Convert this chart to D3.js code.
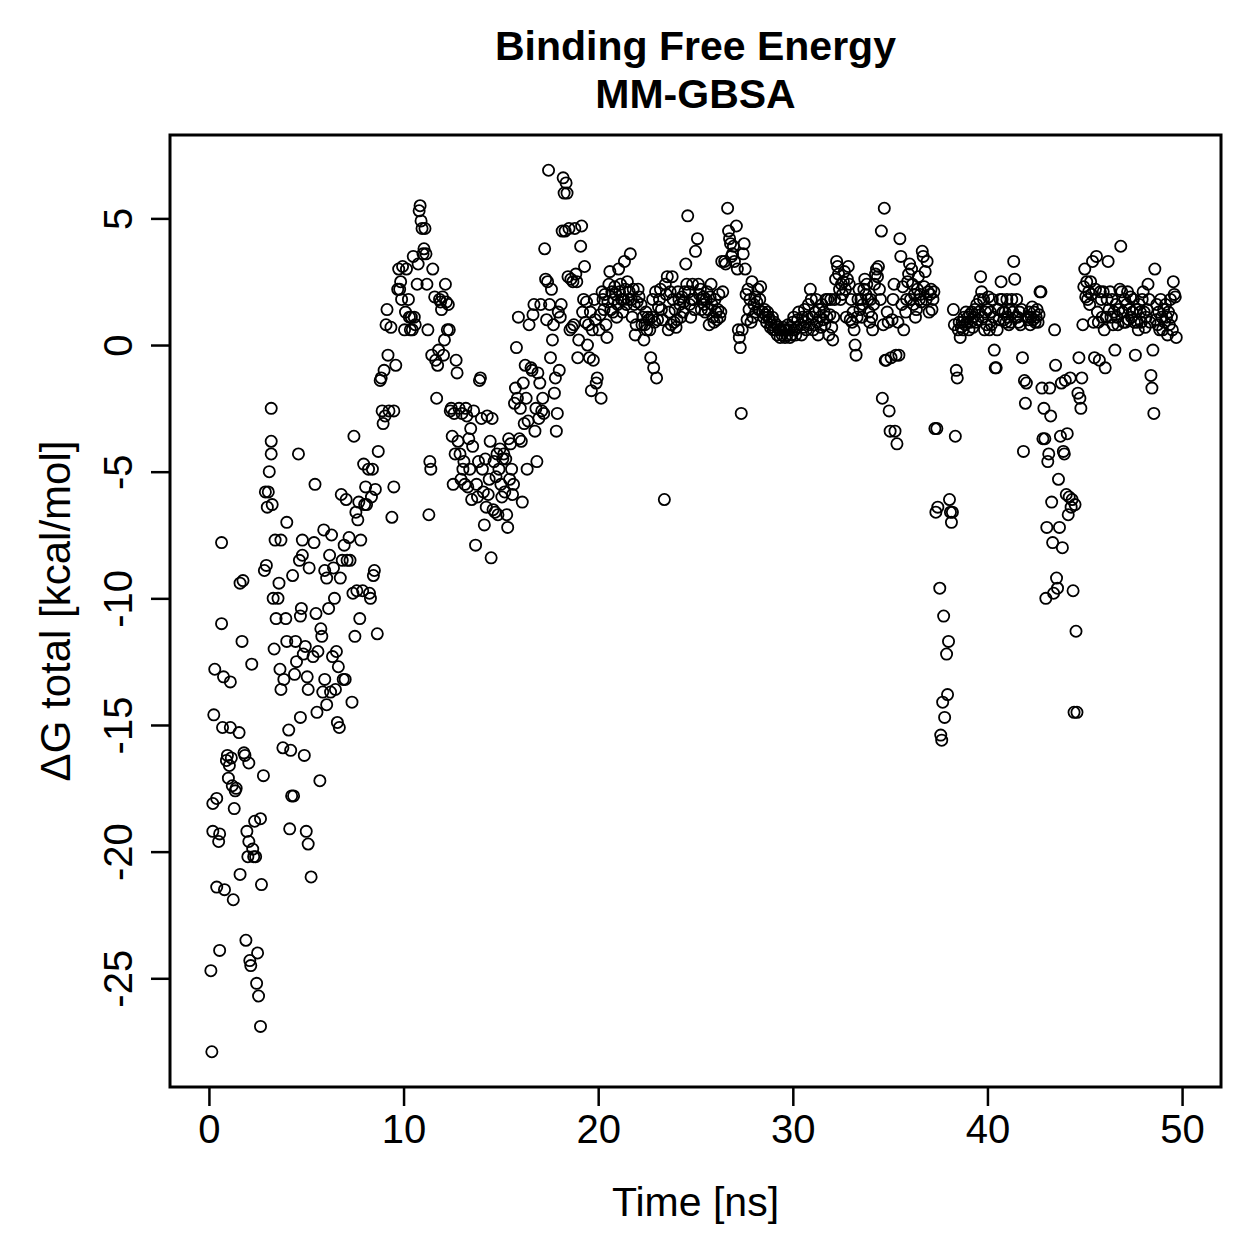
<!DOCTYPE html>
<html>
<head>
<meta charset="utf-8">
<script src="https://cdn.jsdelivr.net/npm/d3@7"></script>
<style>
  body { margin: 0; background: #fff; }
  text { font-family: "Liberation Sans", Arial, Helvetica, sans-serif; fill: #000; }
</style>
</head>
<body>
<svg id="chart" width="1259" height="1259"></svg>
<script>
// [time (ns), dG total (kcal/mol)], split by time window
var seg0to5 = [
  [0.1,-24.7],[0.15,-27.9],[0.25,-14.6],[0.3,-12.8],[0.2,-18.1],[0.2,-19.2],[0.4,-17.9],[0.4,-21.4],
  [0.5,-19.6],[0.55,-19.3],[0.55,-23.9],[0.65,-7.8],[0.65,-11.0],[0.7,-15.1],[0.75,-13.1],[0.8,-21.5],
  [0.9,-16.4],[0.95,-16.2],[1.0,-17.1],[1.05,-16.6],[1.1,-13.3],[1.1,-15.1],[1.15,-16.3],[1.2,-17.4],
  [1.25,-21.9],[1.3,-18.3],[1.35,-17.6],[1.4,-17.5],[1.55,-15.3],[1.6,-20.9],[1.6,-9.4],[1.7,-11.7],
  [1.75,-9.3],[1.8,-16.1],[1.85,-16.2],[1.9,-23.5],[1.95,-19.2],[2.0,-20.2],[2.05,-16.5],[2.05,-19.6],
  [2.1,-24.3],[2.15,-24.5],[2.2,-12.6],[2.25,-19.9],[2.3,-20.2],[2.35,-18.8],[2.4,-20.2],[2.45,-25.2],
  [2.5,-24.0],[2.55,-25.7],[2.65,-18.7],[2.65,-26.9],[2.7,-21.3],[2.8,-17.0],[2.85,-8.9],[2.9,-5.8],
  [2.95,-8.7],[3.0,-6.4],[3.05,-5.8],[3.2,-2.5],[3.2,-3.8],[3.2,-4.3],[3.1,-5.0],[3.25,-6.3],
  [3.3,-10.0],[3.35,-12.0],[3.4,-7.7],[3.45,-10.8],[3.55,-10.0],[3.6,-9.4],[3.65,-12.8],[3.7,-7.7],
  [3.7,-13.6],[3.8,-15.9],[3.85,-13.2],[3.95,-10.8],[4.0,-11.7],[4.0,-7.0],[4.1,-15.2],[4.15,-19.1],
  [4.2,-16.0],[4.25,-17.8],[4.3,-9.1],[4.35,-17.8],[4.4,-13.0],[4.45,-11.7],[4.5,-12.5],[4.6,-4.3],
  [4.65,-8.5],[4.7,-10.7],[4.7,-14.7],[4.75,-10.4],[4.8,-8.3],[4.8,-7.7],[4.85,-12.2],[4.9,-16.2],
  [4.95,-11.9]
];
var seg5to10 = [
  [5.0,-19.2],[5.05,-13.1],[5.1,-19.7],[5.1,-13.6],[5.15,-8.8],[5.25,-21.0],[5.35,-12.3],[5.4,-7.8],
  [5.45,-5.5],[5.5,-10.6],[5.55,-14.5],[5.6,-12.1],[5.7,-17.2],[5.75,-11.2],[5.8,-11.5],[5.85,-13.7],
  [5.9,-7.3],[5.95,-13.2],[5.95,-8.9],[6.05,-14.2],[6.05,-9.2],[6.15,-10.4],[6.2,-8.3],[6.25,-13.7],
  [6.3,-7.5],[6.35,-12.3],[6.4,-8.8],[6.45,-10.0],[6.5,-13.6],[6.55,-12.1],[6.6,-14.9],[6.65,-12.7],
  [6.7,-15.1],[6.75,-9.2],[6.8,-5.9],[6.85,-8.5],[6.9,-13.2],[6.95,-7.9],[7.0,-13.2],[7.05,-6.1],
  [7.1,-8.5],[7.2,-7.6],[7.25,-8.5],[7.35,-14.1],[7.4,-9.8],[7.45,-3.6],[7.5,-11.5],[7.55,-6.6],
  [7.6,-9.7],[7.65,-6.9],[7.7,-6.2],[7.75,-10.8],[7.8,-7.7],[7.9,-9.7],[7.95,-4.7],[8.0,-6.3],
  [8.05,-5.6],[8.1,-6.3],[8.2,-4.9],[8.25,-9.8],[8.3,-10.0],[8.35,-6.0],[8.4,-4.9],[8.45,-9.1],
  [8.5,-8.9],[8.55,-5.7],[8.65,-11.4],[8.7,-4.2],[8.8,-1.4],[8.85,-1.3],[8.9,-2.6],[8.95,-3.1],
  [9.0,-1.0],[9.05,-2.8],[9.1,0.8],[9.15,1.4],[9.2,-0.4],[9.25,-2.6],[9.35,0.7],[9.4,-6.8],
  [9.5,-5.6],[9.5,-2.6],[9.6,-0.8],[9.7,2.2],[9.75,3.0],[9.8,2.2],[9.85,2.5],[9.9,1.8],[9.95,3.1]
];
var seg10to20 = [
  [10.05,0.6],[10.1,1.3],[10.15,3.0],[10.25,1.8],[10.3,1.1],[10.35,0.6],[10.4,1.1],[10.45,0.6],
  [10.5,3.5],[10.55,1.1],[10.6,0.8],[10.7,2.4],[10.75,3.2],[10.8,5.3],[10.85,5.5],[10.9,4.9],
  [10.95,4.6],[11.0,3.6],[11.05,3.8],[11.1,4.6],[11.15,3.6],[11.2,2.4],[11.25,0.6],[11.3,-6.7],
  [11.35,-4.6],[11.4,-4.9],[11.45,-0.4],[11.5,3.0],[11.6,1.9],[11.65,-0.6],[11.7,-2.1],[11.75,-0.8],
  [11.8,-0.2],[11.85,1.8],[11.9,1.7],[11.95,1.4],[12.0,1.9],[12.05,-0.4],[12.1,0.2],[12.15,2.4],
  [12.2,1.7],[12.25,0.6],[12.3,1.6],[12.35,0.6],[12.4,-2.6],[12.45,-2.5],[12.5,-3.6],[12.55,-5.5],
  [12.6,-2.7],[12.65,-4.3],[12.7,-0.6],[12.75,-1.1],[12.8,-3.8],[12.85,-2.5],[12.9,-4.3],[12.95,-5.3],
  [13.0,-2.7],[13.05,-4.9],[13.1,-4.6],[13.15,-5.5],[13.2,-2.5],[13.25,-2.8],[13.3,-5.6],[13.35,-3.7],
  [13.4,-4.9],[13.45,-3.3],[13.5,-6.1],[13.55,-4.0],[13.6,-2.6],[13.7,-7.9],[13.75,-5.5],[13.8,-6.0],
  [13.85,-4.6],[13.9,-1.4],[13.95,-1.3],[14.0,-2.9],[14.05,-4.9],[14.1,-5.8],[14.15,-7.1],[14.2,-4.5],
  [14.25,-6.4],[14.3,-2.8],[14.35,-5.9],[14.4,-5.3],[14.45,-3.8],[14.5,-8.4],[14.55,-2.9],[14.6,-6.5],
  [14.65,-4.6],[14.7,-6.6],[14.75,-5.2],[14.8,-4.3],[14.85,-6.7],[14.9,-4.9],[14.95,-4.1],[15.0,-5.5],
  [15.05,-6.0],[15.1,-4.5],[15.15,-4.3],[15.2,-5.8],[15.25,-4.5],[15.3,-6.7],[15.35,-7.2],[15.4,-3.7],
  [15.45,-5.3],[15.5,-3.9],[15.55,-4.9],[15.6,-5.9],[15.65,-5.5],[15.7,-2.3],[15.75,-1.7],[15.8,-0.1],
  [15.85,-2.1],[15.9,1.1],[15.95,-3.7],[16.0,-2.5],[16.05,-3.8],[16.1,-6.2],[16.15,-1.5],[16.2,-3.1],
  [16.25,-0.8],[16.3,-2.1],[16.35,-4.9],[16.4,-3.0],[16.45,0.8],[16.55,-0.9],[16.6,-1.0],[16.65,1.2],
  [16.7,1.6],[16.75,-3.4],[16.8,-2.5],[16.85,-4.6],[16.9,-1.1],[16.95,-2.9],[17.0,-1.5],[17.05,1.6],
  [17.1,-2.6],[17.15,-2.1],[17.2,-2.7],[17.25,3.8],[17.3,2.6],[17.35,1.0],[17.4,2.5],[17.45,6.9],
  [17.5,1.6],[17.55,-0.5],[17.6,2.2],[17.65,0.2],[17.7,0.8],[17.75,-1.9],[17.8,-1.3],[17.85,-3.4],
  [17.9,-2.7],[17.95,1.3],[18.0,-1.0],[18.05,1.1],[18.1,1.6],[18.15,4.5],[18.2,6.6],[18.25,6.0],
  [18.3,4.5],[18.35,6.4],[18.4,6.0],[18.45,2.7],[18.5,4.6],[18.55,0.6],[18.6,2.6],[18.65,0.7],
  [18.7,2.5],[18.75,0.8],[18.8,4.6],[18.85,2.8],[18.9,2.5],[18.95,-0.5],[19.0,0.2],[19.1,3.9],
  [19.15,4.7],[19.2,1.3],[19.25,1.8],[19.3,3.1],[19.35,0.9],[19.4,1.7],[19.45,0.0],[19.5,0.8],
  [19.55,-0.5],[19.6,1.3],[19.65,-1.8],[19.7,0.6],[19.75,-0.6],[19.8,1.8],[19.85,1.0],[19.9,-1.5],
  [19.95,-1.3]
];
var seg20to30 = [
  [20.05,0.6],[20.1,1.2],[20.15,-2.1],[20.2,2.1],[20.25,1.8],[20.3,1.4],[20.35,2.0],[20.4,0.8],
  [20.45,0.3],[20.5,1.7],[20.55,2.4],[20.6,2.9],[20.65,1.4],[20.7,2.1],[20.75,1.3],[20.8,1.8],
  [20.85,2.3],[20.9,2.0],[20.95,1.1],[21.0,1.6],[21.05,3.0],[21.1,2.1],[21.15,2.4],[21.2,1.8],
  [21.25,1.3],[21.3,1.8],[21.35,3.3],[21.4,2.2],[21.45,1.6],[21.5,2.5],[21.55,1.8],[21.6,2.1],
  [21.65,3.6],[21.7,1.8],[21.75,1.1],[21.8,2.2],[21.85,1.6],[21.9,0.4],[21.95,0.8],[22.0,1.7],
  [22.05,2.2],[22.1,1.9],[22.2,1.6],[22.25,0.8],[22.3,1.1],[22.35,0.2],[22.4,0.8],[22.45,1.3],
  [22.5,0.6],[22.55,1.1],[22.6,1.0],[22.65,0.6],[22.7,-0.5],[22.75,1.1],[22.8,1.8],[22.85,-0.9],
  [22.9,0.9],[22.95,2.1],[23.0,-1.3],[23.05,1.0],[23.1,1.5],[23.15,1.8],[23.2,2.2],[23.25,1.4],
  [23.3,1.0],[23.4,-6.1],[23.45,2.4],[23.5,2.0],[23.55,2.7],[23.6,0.6],[23.65,1.3],[23.7,2.1],
  [23.75,0.8],[23.8,2.7],[23.85,1.8],[23.9,0.9],[23.95,1.4],[24.0,0.7],[24.05,1.0],[24.1,2.1],
  [24.15,1.8],[24.2,1.6],[24.25,1.1],[24.3,1.9],[24.35,1.3],[24.4,1.7],[24.45,2.1],[24.5,3.2],
  [24.55,2.4],[24.6,5.1],[24.65,2.1],[24.7,1.6],[24.75,1.1],[24.8,1.8],[24.85,2.4],[24.9,1.8],
  [24.95,1.4],[25.0,3.7],[25.1,4.2],[25.15,2.4],[25.2,2.0],[25.25,2.2],[25.3,1.4],[25.35,1.8],
  [25.4,1.9],[25.45,1.6],[25.5,1.3],[25.55,1.8],[25.6,2.1],[25.65,1.4],[25.7,0.8],[25.75,1.9],
  [25.8,2.4],[25.85,1.6],[25.9,1.1],[25.95,0.9],[26.0,1.8],[26.05,1.3],[26.1,1.0],[26.15,1.4],
  [26.2,2.0],[26.25,1.1],[26.3,1.3],[26.35,3.3],[26.4,2.1],[26.5,3.3],[26.55,3.2],[26.65,5.4],
  [26.7,4.5],[26.75,4.2],[26.8,4.0],[26.85,3.5],[26.9,3.6],[26.95,3.9],[27.0,3.3],[27.1,4.7],
  [27.15,3.0],[27.2,0.6],[27.25,0.3],[27.3,-0.1],[27.35,-2.7],[27.4,0.6],[27.45,3.6],[27.5,4.0],
  [27.55,3.0],[27.6,2.0],[27.65,1.0],[27.7,2.2],[27.75,1.4],[27.8,1.8],[27.85,0.9],[27.9,2.5],
  [27.95,1.1],[28.0,1.6],[28.05,1.9],[28.1,1.3],[28.15,1.7],[28.2,2.2],[28.25,1.4],[28.3,1.8],
  [28.35,2.3],[28.45,1.3],[28.5,1.1],[28.55,1.4],[28.6,1.2],[28.65,0.9],[28.7,1.3],[28.75,1.1],
  [28.8,1.0],[28.85,0.7],[28.9,0.8],[28.95,1.1],[29.0,0.6],[29.05,0.9],[29.1,0.6],[29.15,0.8],
  [29.2,0.4],[29.25,0.7],[29.3,0.6],[29.35,0.3],[29.4,0.6],[29.45,0.4],[29.5,0.7],[29.55,0.6],
  [29.6,0.3],[29.65,0.6],[29.7,0.4],[29.75,0.8],[29.8,0.6],[29.85,0.3],[29.9,0.7],[29.95,0.4]
];
var seg30to40 = [
  [30.0,0.9],[30.05,1.1],[30.1,0.6],[30.15,0.4],[30.2,0.7],[30.25,1.0],[30.3,1.3],[30.4,0.8],
  [30.45,0.4],[30.5,1.1],[30.55,0.7],[30.6,1.4],[30.65,0.9],[30.7,0.6],[30.75,1.1],[30.8,1.6],
  [30.85,0.8],[30.9,2.2],[30.95,1.8],[31.0,1.1],[31.05,0.6],[31.1,0.8],[31.15,1.3],[31.2,1.8],
  [31.25,0.9],[31.3,0.4],[31.35,1.4],[31.4,1.1],[31.45,0.7],[31.5,1.6],[31.55,1.0],[31.6,1.3],
  [31.65,0.8],[31.7,1.8],[31.75,1.1],[31.8,1.8],[31.85,0.4],[31.9,1.2],[31.95,1.8],[32.0,0.7],
  [32.05,0.2],[32.1,1.1],[32.15,1.8],[32.2,2.6],[32.25,3.3],[32.3,3.1],[32.35,2.8],[32.4,2.2],
  [32.45,1.8],[32.5,2.4],[32.55,2.0],[32.6,2.5],[32.65,2.9],[32.7,2.2],[32.75,1.1],[32.8,2.6],
  [32.85,3.1],[32.9,2.4],[32.95,1.0],[33.0,1.8],[33.05,0.9],[33.1,1.3],[33.15,0.6],[33.2,0.0],
  [33.25,-0.4],[33.3,1.1],[33.35,1.8],[33.4,2.2],[33.45,1.4],[33.5,1.8],[33.55,1.1],[33.6,1.6],
  [33.65,2.2],[33.7,2.6],[33.75,2.0],[33.8,2.4],[33.85,1.8],[33.9,1.3],[33.95,0.9],[34.0,1.8],
  [34.05,1.1],[34.1,0.6],[34.15,1.6],[34.2,2.4],[34.25,2.8],[34.3,3.0],[34.35,2.7],[34.4,3.1],
  [34.45,2.2],[34.5,1.8],[34.55,4.5],[34.6,-2.1],[34.65,0.8],[34.7,5.4],[34.75,-0.6],[34.8,-0.6],
  [34.85,1.3],[34.9,0.9],[34.95,-2.6],[35.0,-3.4],[35.05,-0.5],[35.1,1.0],[35.15,1.8],[35.2,2.4],
  [35.25,-3.4],[35.3,-0.4],[35.35,-3.9],[35.4,0.9],[35.45,-0.4],[35.5,4.2],[35.55,3.5],[35.6,1.6],
  [35.65,2.3],[35.7,0.6],[35.8,1.3],[35.85,1.8],[35.9,2.5],[35.95,2.8],[36.0,3.2],[36.05,1.8],
  [36.1,3.0],[36.15,2.4],[36.2,1.6],[36.25,2.0],[36.3,1.1],[36.35,1.4],[36.4,2.2],[36.45,2.7],
  [36.5,1.8],[36.55,2.0],[36.6,1.7],[36.65,3.7],[36.7,3.5],[36.75,2.3],[36.8,2.9],[36.85,1.8],
  [36.9,3.3],[36.95,2.1],[37.0,1.3],[37.05,2.0],[37.1,2.2],[37.15,1.4],[37.2,1.8],[37.25,2.1],
  [37.3,-3.3],[37.35,-6.6],[37.4,-3.3],[37.45,-6.4],[37.55,-9.6],[37.6,-15.4],[37.65,-15.6],[37.7,-14.1],
  [37.75,-10.7],[37.8,-14.7],[37.9,-12.2],[37.95,-13.8],[38.0,-11.7],[38.05,-6.1],[38.1,-6.6],[38.15,-7.0],
  [38.2,-6.6],[38.25,1.4],[38.3,0.8],[38.35,-3.6],[38.4,-1.0],[38.45,-1.3],[38.5,0.6],[38.55,0.9],
  [38.6,0.3],[38.65,0.7],[38.7,0.9],[38.75,0.6],[38.8,1.1],[38.85,0.8],[38.9,1.3],[38.95,0.9],
  [39.0,1.1],[39.05,0.6],[39.1,1.2],[39.15,0.9],[39.2,1.3],[39.25,0.7],[39.3,1.1],[39.35,1.4],
  [39.4,0.9],[39.45,1.6],[39.5,1.0],[39.55,1.3],[39.6,1.8],[39.65,2.7],[39.7,2.1],[39.75,1.1],
  [39.8,1.8],[39.85,0.6],[39.9,1.3],[39.95,0.8]
];
var seg40to50 = [
  [40.0,1.4],[40.05,1.9],[40.1,0.6],[40.15,1.3],[40.2,0.8],[40.25,1.8],[40.3,1.1],[40.35,-0.2],
  [40.4,-0.9],[40.45,-0.9],[40.5,0.6],[40.55,1.4],[40.6,1.0],[40.65,1.8],[40.7,2.5],[40.75,1.8],
  [40.8,1.3],[40.85,1.0],[40.9,1.3],[40.95,0.9],[41.0,1.8],[41.05,1.1],[41.1,0.8],[41.15,1.4],
  [41.2,0.9],[41.25,1.8],[41.3,1.3],[41.35,3.3],[41.4,2.6],[41.45,1.1],[41.5,1.8],[41.55,1.1],
  [41.6,0.9],[41.65,1.3],[41.7,0.8],[41.75,1.4],[41.8,-0.5],[41.85,-4.2],[41.9,-1.4],[41.95,-2.3],
  [42.0,-1.5],[42.05,1.1],[42.1,1.0],[42.15,1.3],[42.2,0.8],[42.25,1.1],[42.3,1.5],[42.35,1.0],
  [42.4,1.3],[42.45,0.9],[42.5,1.1],[42.55,1.4],[42.6,0.9],[42.65,1.2],[42.7,2.1],[42.75,2.1],
  [42.8,-1.7],[42.85,-3.7],[42.9,-2.5],[42.95,-3.7],[43.0,-10.0],[43.05,-7.2],[43.1,-4.6],[43.15,-4.3],
  [43.2,-1.7],[43.25,-2.8],[43.3,-6.2],[43.35,-7.8],[43.4,-9.8],[43.45,0.6],[43.5,-0.8],[43.55,-9.2],
  [43.6,-9.6],[43.65,-5.3],[43.7,-7.2],[43.75,-3.6],[43.8,-1.5],[43.85,-8.0],[43.9,-4.2],[43.95,-4.3],
  [44.0,-1.4],[44.05,-5.9],[44.1,-3.5],[44.15,-6.7],[44.2,-6.0],[44.25,-1.3],[44.3,-6.4],[44.35,-6.1],
  [44.4,-9.7],[44.45,-14.5],[44.5,-6.3],[44.55,-11.3],[44.6,-14.5],[44.65,-1.9],[44.7,-0.5],[44.75,-2.1],
  [44.8,-2.5],[44.85,-1.3],[44.9,0.8],[44.95,2.3],[45.0,3.0],[45.05,1.9],[45.1,2.5],[45.15,1.8],
  [45.2,2.1],[45.25,1.6],[45.3,2.5],[45.35,2.0],[45.4,3.3],[45.45,0.9],[45.5,-0.5],[45.55,2.2],
  [45.6,3.5],[45.65,1.3],[45.7,0.9],[45.75,-0.6],[45.8,2.1],[45.85,1.8],[45.9,1.1],[45.95,2.1],
  [46.0,0.6],[46.05,-0.9],[46.1,1.1],[46.15,1.8],[46.2,3.3],[46.25,1.4],[46.3,2.1],[46.35,1.1],
  [46.4,1.8],[46.45,0.8],[46.5,1.3],[46.55,-0.2],[46.6,1.6],[46.65,1.1],[46.7,0.8],[46.75,1.4],
  [46.8,2.2],[46.85,3.9],[46.9,2.1],[46.95,1.3],[47.0,0.9],[47.05,1.8],[47.1,0.9],[47.15,1.6],
  [47.2,2.1],[47.25,1.0],[47.3,1.4],[47.35,1.9],[47.4,1.1],[47.45,1.3],[47.5,1.8],[47.55,0.9],
  [47.6,-0.4],[47.65,1.4],[47.7,0.9],[47.75,0.6],[47.8,1.6],[47.85,1.3],[47.9,0.9],[47.95,1.8],
  [48.0,2.1],[48.05,1.3],[48.1,0.7],[48.15,1.1],[48.2,1.4],[48.25,2.4],[48.3,1.8],[48.35,0.9],
  [48.4,-1.2],[48.45,-1.7],[48.5,-0.2],[48.55,-2.7],[48.6,3.0],[48.65,1.0],[48.7,1.6],[48.75,0.8],
  [48.8,1.3],[48.85,0.6],[48.9,1.8],[48.95,1.1],[49.0,0.6],[49.05,1.4],[49.1,0.9],[49.15,1.6],
  [49.2,1.1],[49.25,0.4],[49.3,1.3],[49.35,0.8],[49.4,1.8],[49.45,1.1],[49.5,0.6],[49.55,2.5],
  [49.6,2.0],[49.65,1.9],[49.7,0.3]
];

var xTicks = [0, 10, 20, 30, 40, 50];
var yTicks = [-25, -20, -15, -10, -5, 0, 5];
var titleLines = ["Binding Free Energy", "MM-GBSA"];
var xLabel = "Time [ns]";
var yLabel = "\u0394G total [kcal/mol]";

var data = [].concat(seg0to5, seg5to10, seg10to20, seg20to30, seg30to40, seg40to50)
  .map(function(d) { return { t: d[0], dg: d[1] }; });

var svg = d3.select("#chart");

var plot = { left: 170, right: 1221, top: 135, bottom: 1087 };

// R style: pad the data range by 4% on each side
function padded(ext) {
  var pad = (ext[1] - ext[0]) * 0.04;
  return [ext[0] - pad, ext[1] + pad];
}

var xScale = d3.scaleLinear()
  .domain(padded([0, 50]))
  .range([plot.left, plot.right]);

var yScale = d3.scaleLinear()
  .domain(padded(d3.extent(data, function(d) { return d.dg; })))
  .range([plot.bottom, plot.top]);

// plain hyphen for negatives, like R
var fmt = function(d) { return String(d); };

var xAxis = d3.axisBottom(xScale)
  .tickValues(xTicks)
  .tickSize(19)
  .tickPadding(9)
  .tickFormat(fmt);

var yAxis = d3.axisLeft(yScale)
  .tickValues(yTicks)
  .tickSize(19)
  .tickPadding(9)
  .tickFormat(fmt);

var gx = svg.append("g")
  .attr("transform", "translate(0," + plot.bottom + ")")
  .call(xAxis);
gx.select(".domain").remove();
gx.selectAll("line").attr("stroke", "#000").attr("stroke-width", 2.5);
gx.selectAll("text")
  .style("font-size", "40px")
  .attr("fill", "#000");

var gy = svg.append("g")
  .attr("transform", "translate(" + plot.left + ",0)")
  .call(yAxis);
gy.select(".domain").remove();
gy.selectAll("line").attr("stroke", "#000").attr("stroke-width", 2.5);
gy.selectAll("text")
  .style("font-size", "40px")
  .attr("fill", "#000")
  .attr("text-anchor", "middle")
  .attr("dy", 0)
  .attr("x", 0)
  .attr("transform", "translate(-38,0) rotate(-90)");

// points
svg.append("g")
  .selectAll("circle")
  .data(data)
  .enter().append("circle")
  .attr("cx", function(d) { return xScale(d.t); })
  .attr("cy", function(d) { return yScale(d.dg); })
  .attr("r", 5.6)
  .attr("fill", "none")
  .attr("stroke", "#000")
  .attr("stroke-width", 1.8);

// box
svg.append("rect")
  .attr("x", plot.left)
  .attr("y", plot.top)
  .attr("width", plot.right - plot.left)
  .attr("height", plot.bottom - plot.top)
  .attr("fill", "none")
  .attr("stroke", "#000")
  .attr("stroke-width", 3);

// titles
svg.selectAll(".title")
  .data(titleLines)
  .enter().append("text")
  .attr("class", "title")
  .attr("x", (plot.left + plot.right) / 2)
  .attr("y", function(d, i) { return 60 + i * 48; })
  .attr("text-anchor", "middle")
  .style("font-size", "41px")
  .style("font-weight", "bold")
  .text(function(d) { return d; });

svg.append("text")
  .attr("x", (plot.left + plot.right) / 2)
  .attr("y", 1216)
  .attr("text-anchor", "middle")
  .style("font-size", "41px")
  .text(xLabel);

svg.append("text")
  .attr("transform", "translate(70," + ((plot.top + plot.bottom) / 2) + ") rotate(-90)")
  .attr("text-anchor", "middle")
  .style("font-size", "42px")
  .text(yLabel);
</script>
</body>
</html>
